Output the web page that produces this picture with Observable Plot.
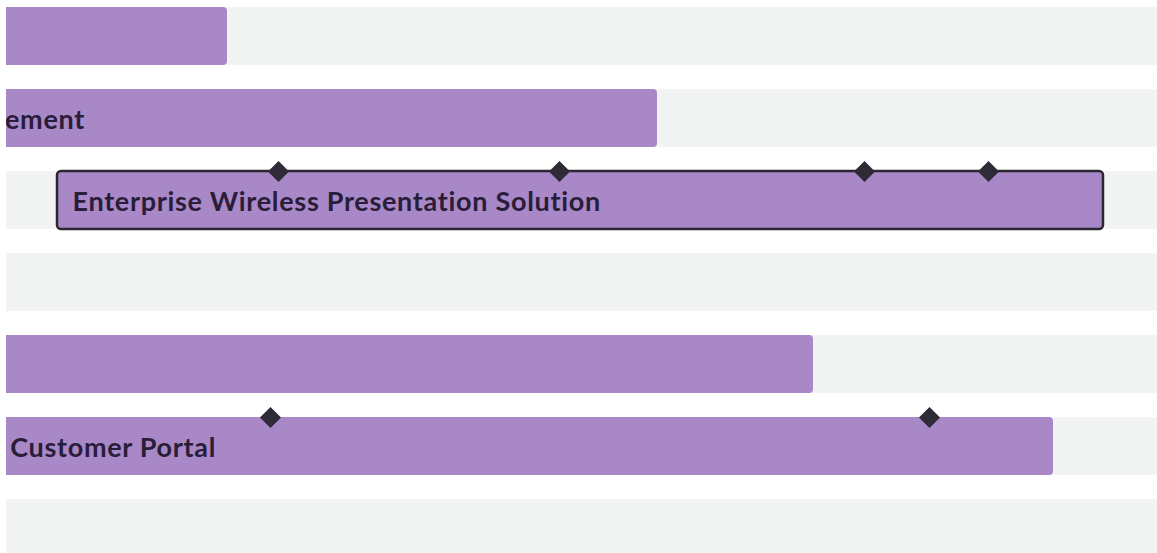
<!DOCTYPE html>
<html>
<head>
<meta charset="utf-8">
<script src="https://cdn.jsdelivr.net/npm/d3@7"></script>
<script src="https://cdn.jsdelivr.net/npm/@observablehq/plot@0.6"></script>
<style>
  html, body { margin: 0; padding: 0; background: #fff; overflow: hidden; }
  #chart svg { display: block; overflow: hidden; }
</style>
</head>
<body>
<div id="chart"></div>
<script>
// Rows of the timeline (rows 3 and 6 are empty in this view)
const rows = ["Network Upgrade", "Device Management", "Enterprise Wireless Presentation Solution",
              "Security Audit", "Cloud Migration", "Self-Service Customer Portal", "Data Warehouse"];

// Tasks (time in weeks from left edge of the view)
const taskName  = ["Network Upgrade", "Device Management", "Enterprise Wireless Presentation Solution", "Cloud Migration", "Self-Service Customer Portal"];
const taskStart = [-12, -19.6, 5.1, -20, -17.0];
const taskEnd   = [22.1, 65.1, 109.7, 80.7, 104.7];
const taskLabel = ["", "Device Management", "Enterprise Wireless Presentation Solution", "", "Self-Service Customer Portal"];
const taskSelected = [false, false, true, false, false];

// Milestones
const msTask = ["Enterprise Wireless Presentation Solution", "Enterprise Wireless Presentation Solution",
                "Enterprise Wireless Presentation Solution", "Enterprise Wireless Presentation Solution",
                "Self-Service Customer Portal", "Self-Service Customer Portal"];
const msAt   = [27.2, 55.3, 85.8, 98.2, 26.4, 92.3];

// View window
const viewStart = 0, viewEnd = 115.1;

const tasks = taskName.map((n, i) => ({name: n, start: taskStart[i], end: taskEnd[i], label: taskLabel[i], selected: taskSelected[i]}));
const milestones = msTask.map((n, i) => ({name: n, at: msAt[i]}));

const W = 1157, H = 553;
const chart = Plot.plot({
  width: W,
  height: H,
  marginLeft: 6,
  marginRight: 0,
  marginTop: 0,
  marginBottom: 0,
  style: {fontFamily: "Lato, 'Open Sans', sans-serif", background: "white"},
  x: {domain: [viewStart, viewEnd], axis: null},
  y: {domain: rows, range: [7, 557], paddingInner: 24 / 82, paddingOuter: 0, align: 0, axis: null},
  marks: [
    Plot.barX(rows, {x1: viewStart, x2: viewEnd, y: d => d, fill: "#f2f4f4", clip: true}),
    Plot.barX(tasks, {x1: "start", x2: "end", y: "name", fill: "#a888c6", rx: 4, clip: true,
      stroke: d => d.selected ? "#2b2731" : "none", strokeWidth: 2.5}),
    Plot.text(tasks, {x: "start", y: "name", text: "label", dx: 15, dy: 2, textAnchor: "start",
      fill: "#2a1d3a", fontSize: 27, fontWeight: 700, clip: true}),
    Plot.dot(milestones, {x: "at", y: "name", dy: -29, symbol: "diamond2", r: 9.5,
      fill: "#2e2a36", stroke: "none"})
  ]
});
chart.querySelectorAll("text").forEach(t => t.style.letterSpacing = "0.7px");
document.getElementById("chart").appendChild(chart);
</script>
</body>
</html>
